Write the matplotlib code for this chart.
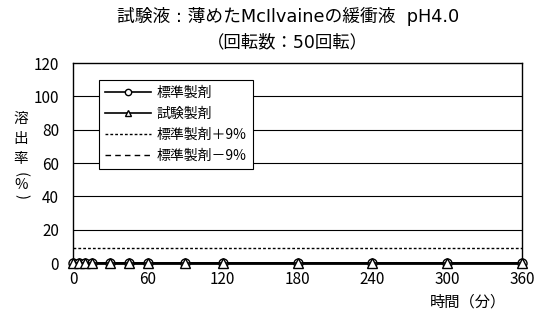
import matplotlib
matplotlib.use("Agg")
import matplotlib.pyplot as plt

plt.rcParams['font.family'] = ['Noto Sans CJK JP', 'DejaVu Sans']

times = [0, 5, 10, 15, 30, 45, 60, 90, 120, 180, 240, 300, 360]
std = [0, 0, 0, 0, 0, 0, 0, 0, 0, 0, 0, 0, 0]
test = [0, 0, 0, 0, 0, 0, 0, 0, 0, 0, 0, 0, 0]
upper = [9] * len(times)
lower = [-9] * len(times)
xticks = [0, 60, 120, 180, 240, 300, 360]
yticks = [0, 20, 40, 60, 80, 100, 120]

fig = plt.figure(figsize=(5.39, 3.17), dpi=100)
ax = fig.add_axes([73/539, 1-263/317, (522-73)/539, (263-63)/317])

ax.plot(times, std, color='black', lw=1.2, marker='o', ms=6.5, mfc='white', mec='black', mew=1.0, label='標準製剤', clip_on=False, zorder=5)
ax.plot(times, test, color='black', lw=1.2, marker='^', ms=6.5, mfc='white', mec='black', mew=1.0, label='試験製剤', clip_on=False, zorder=6)
ax.plot(times, upper, color='black', lw=1.0, ls=(0, (2, 1.5)), label='標準製剤＋9%')
ax.plot(times, lower, color='black', lw=1.0, ls=(0, (4, 3)), label='標準製剤－9%')

ax.set_xlim(0, 360)
ax.set_ylim(0, 120)
ax.set_xticks(xticks)
ax.set_yticks(yticks)
ax.tick_params(length=0, labelsize=11, pad=10)
ax.tick_params(axis='x', pad=6)
for y in yticks[1:-1]:
    ax.axhline(y, color='black', lw=0.8, zorder=1)
for s in ['top', 'right', 'left']:
    ax.spines[s].set_linewidth(1.0)
ax.spines['bottom'].set_linewidth(2.0)

leg = ax.legend(loc='upper left', bbox_to_anchor=((99-73)/449, 1-(80-63)/200), frameon=True,
                fancybox=False, edgecolor='black', framealpha=1, fontsize=10,
                handlelength=3.3, numpoints=1, borderpad=0.45, labelspacing=0.5,
                handletextpad=0.4, markerscale=0.7, borderaxespad=0)
leg.get_frame().set_linewidth(0.8)
leg.set_zorder(10)

tfam = ['DejaVu Sans', 'Noto Sans CJK JP']
fig.text(288/539, 1-16/317, '試験液 : 薄めたMcIlvaineの緩衝液  pH4.0', ha='center', va='center', fontsize=12.8, family=tfam)
fig.text(287/539, 1-42/317, '（回転数：50回転）', ha='center', va='center', fontsize=12.5, family=tfam)
fig.text(468/539, 1-302/317, '時間（分）', ha='center', va='center', fontsize=11)
for ch, yy, rot in zip(['溶', '出', '率', '(', '%', ')'], [119, 139, 159, 175, 185, 196], [0, 0, 0, -90, 0, -90]):
    fig.text(21/539, 1-yy/317, ch, ha='center', va='center', fontsize=10.5, rotation=rot,
             rotation_mode='anchor')

fig.savefig('out.png', dpi=100)
